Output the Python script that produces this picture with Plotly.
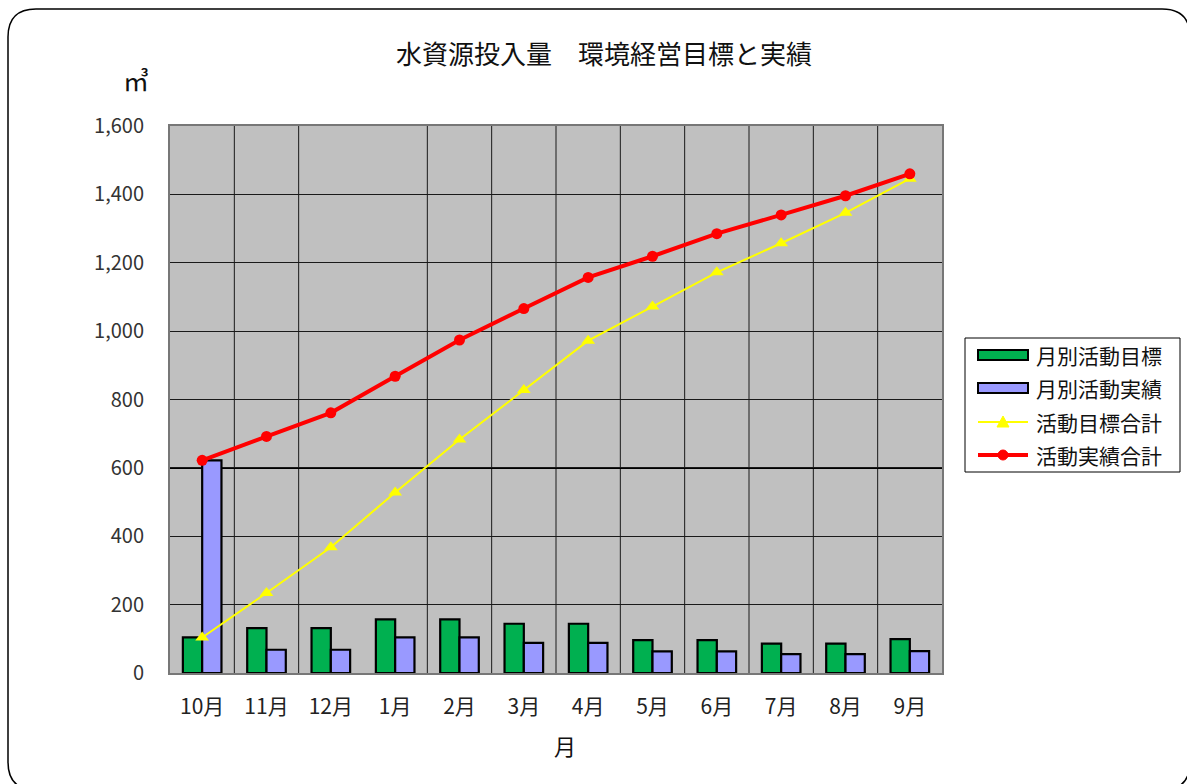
import plotly.graph_objects as go

# ---- data -------------------------------------------------------------
months = ["10月", "11月", "12月", "1月", "2月", "3月",
          "4月", "5月", "6月", "7月", "8月", "9月"]
target_monthly = [104, 131, 131, 157, 157, 144, 144, 96, 96, 86, 86, 99]
actual_monthly = [622, 68, 68, 104, 104, 88, 88, 63, 63, 55, 55, 64]
target_cum = [104, 234, 368, 528, 683, 828, 972, 1072, 1172, 1257, 1346, 1446]
actual_cum = [622, 692, 761, 868, 974, 1066, 1157, 1219, 1285, 1340, 1396, 1460]
y_ticks = [0, 200, 400, 600, 800, 1000, 1200, 1400, 1600]

series_names = ["月別活動目標", "月別活動実績", "活動目標合計", "活動実績合計"]
title_text = "水資源投入量　環境経営目標と実績"
unit_text = "㎥"
x_title = "月"

# ---- layout geometry (pixels) ----------------------------------------
W, H = 1187, 784
PL, PR, PT, PB = 170, 942, 126, 673  # plot area edges
FONT = "Noto Sans CJK JP"

GREEN = "#00B050"
BLUE = "#9999FF"
YELLOW = "#FFFF00"
RED = "#FF0000"


def fx(px):
    return (px - PL) / (PR - PL)


def fy(py):
    return (PB - py) / (PB - PT)


fig = go.Figure()

fig.add_trace(go.Bar(
    x=months, y=target_monthly, name=series_names[0],
    marker=dict(color=GREEN, line=dict(color="black", width=2.2)),
))
fig.add_trace(go.Bar(
    x=months, y=actual_monthly, name=series_names[1],
    marker=dict(color=BLUE, line=dict(color="black", width=2.2)),
))
fig.add_trace(go.Scatter(
    x=months, y=target_cum, name=series_names[2], mode="lines+markers",
    line=dict(color=YELLOW, width=2),
    marker=dict(symbol="triangle-up", size=12, color=YELLOW),
))
fig.add_trace(go.Scatter(
    x=months, y=actual_cum, name=series_names[3], mode="lines+markers",
    line=dict(color=RED, width=4),
    marker=dict(symbol="circle", size=11, color=RED),
))

shapes = []

# vertical grid lines between categories (none between 12月 and 1月)
for i in range(len(months) - 1):
    if i == 2:
        continue
    shapes.append(dict(type="line", xref="x", yref="paper",
                       x0=i + 0.5, x1=i + 0.5, y0=0, y1=1,
                       line=dict(color="#1a1a1a", width=1), layer="below"))

# heavier line at 600
shapes.append(dict(type="line", xref="paper", yref="y", x0=0, x1=1,
                   y0=600, y1=600, line=dict(color="black", width=2),
                   layer="below"))

# rounded outer frame
x0, y0, x1, y1, r = 8, 9, 1190, 790, 28
path = (
    f"M {fx(x0 + r)},{fy(y0)} L {fx(x1 - r)},{fy(y0)} "
    f"Q {fx(x1)},{fy(y0)} {fx(x1)},{fy(y0 + r)} "
    f"L {fx(x1)},{fy(y1 - r)} Q {fx(x1)},{fy(y1)} {fx(x1 - r)},{fy(y1)} "
    f"L {fx(x0 + r)},{fy(y1)} Q {fx(x0)},{fy(y1)} {fx(x0)},{fy(y1 - r)} "
    f"L {fx(x0)},{fy(y0 + r)} Q {fx(x0)},{fy(y0)} {fx(x0 + r)},{fy(y0)} Z"
)
shapes.append(dict(type="path", xref="paper", yref="paper", path=path,
                   line=dict(color="black", width=1.5), layer="below"))

# legend box
LX0, LY0, LX1, LY1 = 965, 338, 1180, 472
shapes.append(dict(type="rect", xref="paper", yref="paper",
                   x0=fx(LX0), x1=fx(LX1), y0=fy(LY1), y1=fy(LY0),
                   fillcolor="white", line=dict(color="black", width=1),
                   layer="above"))
rows = [355, 388, 422, 455]
SX0, SX1 = 978, 1028
for cy, col in zip(rows[:2], [GREEN, BLUE]):
    shapes.append(dict(type="rect", xref="paper", yref="paper",
                       x0=fx(SX0), x1=fx(SX1), y0=fy(cy + 5), y1=fy(cy - 5),
                       fillcolor=col, line=dict(color="black", width=2),
                       layer="above"))
# yellow line + triangle
cy = rows[2]
shapes.append(dict(type="line", xref="paper", yref="paper",
                   x0=fx(SX0), x1=fx(SX1), y0=fy(cy), y1=fy(cy),
                   line=dict(color=YELLOW, width=2), layer="above"))
cx = (SX0 + SX1) / 2
tri = (f"M {fx(cx - 6)},{fy(cy + 5)} L {fx(cx + 6)},{fy(cy + 5)} "
       f"L {fx(cx)},{fy(cy - 6)} Z")
shapes.append(dict(type="path", xref="paper", yref="paper", path=tri,
                   fillcolor=YELLOW, line=dict(color=YELLOW, width=1),
                   layer="above"))
# red line + dot
cy = rows[3]
shapes.append(dict(type="line", xref="paper", yref="paper",
                   x0=fx(SX0), x1=fx(SX1), y0=fy(cy), y1=fy(cy),
                   line=dict(color=RED, width=4), layer="above"))
shapes.append(dict(type="circle", xref="paper", yref="paper",
                   x0=fx(cx - 5), x1=fx(cx + 5), y0=fy(cy + 5), y1=fy(cy - 5),
                   fillcolor=RED, line=dict(color=RED, width=1),
                   layer="above"))

annotations = []
for cy, name in zip(rows, series_names):
    annotations.append(dict(x=fx(1034), y=fy(cy), xref="paper", yref="paper",
                            text=name, showarrow=False, xanchor="left",
                            yanchor="middle",
                            font=dict(family=FONT, size=21, color="#111")))

annotations.append(dict(x=fx(604), y=fy(53), xref="paper", yref="paper",
                        text=title_text, showarrow=False, xanchor="center",
                        yanchor="middle",
                        font=dict(family=FONT, size=26, color="#111")))
annotations.append(dict(x=fx(136), y=fy(80), xref="paper", yref="paper",
                        text=unit_text, showarrow=False, xanchor="center",
                        yanchor="middle",
                        font=dict(family=FONT, size=26, color="#111")))
annotations.append(dict(x=fx(565), y=fy(745), xref="paper", yref="paper",
                        text=x_title, showarrow=False, xanchor="center",
                        yanchor="middle",
                        font=dict(family=FONT, size=22, color="#111")))

fig.update_layout(
    width=W, height=H,
    margin=dict(l=PL, r=W - PR, t=PT, b=H - PB, pad=0),
    paper_bgcolor="white",
    plot_bgcolor="#C0C0C0",
    barmode="group",
    bargap=0.4,
    bargroupgap=0,
    showlegend=False,
    shapes=shapes,
    annotations=annotations,
    font=dict(family=FONT, color="#222"),
)
fig.update_xaxes(
    type="category", categoryorder="array", categoryarray=months,
    range=[-0.5, len(months) - 0.5],
    showgrid=False, showline=True, linecolor="#777", linewidth=2,
    mirror=True, ticks="", ticklabelstandoff=14,
    tickfont=dict(family=FONT, size=21, color="#222"),
)
fig.update_yaxes(
    range=[0, 1600], tickvals=y_ticks, tickformat=",",
    showgrid=True, gridcolor="#1a1a1a", gridwidth=1,
    showline=True, linecolor="#777", linewidth=2, mirror=True,
    zeroline=False, ticks="", ticklabelstandoff=20,
    tickfont=dict(family=FONT, size=20, color="#333"),
)

fig.write_html("out.html")
